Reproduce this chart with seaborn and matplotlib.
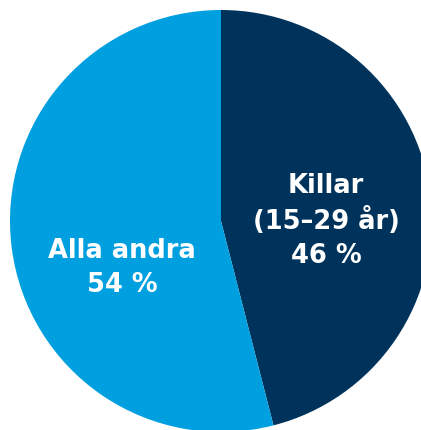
import matplotlib
matplotlib.use("Agg")
import matplotlib.pyplot as plt
import seaborn as sns

categories = ["Killar\n(15–29 år)", "Alla andra"]
shares = [46, 54]
colors = ["#00335B", "#009FE0"]

sns.set_theme(style="white")
plt.rcParams['font.family'] = ['DejaVu Sans']

W, H = 421, 430
fig = plt.figure(figsize=(W / 100, H / 100), dpi=100)
ax = fig.add_axes([0, 0, 1, 1])

cx, cy, r = 221, H - 221, 211
wedges, _ = ax.pie(shares, colors=colors, startangle=90, counterclock=False,
                   center=(cx, cy), radius=r, frame=True,
                   wedgeprops=dict(linewidth=0, antialiased=True))
ax.set_xlim(0, W)
ax.set_ylim(0, H)
ax.set_aspect("equal")
ax.axis("off")

label_pos = [(326 / W, 1 - 221 / H), (122 / W, 1 - 268 / H)]
for cat, val, (x, y) in zip(categories, shares, label_pos):
    ax.text(x, y, f"{cat}\n{val} %", transform=ax.transAxes, ha="center",
            va="center", color="white", fontsize=18.5, fontweight="bold",
            linespacing=1.4)

fig.savefig("out.png", dpi=100)
